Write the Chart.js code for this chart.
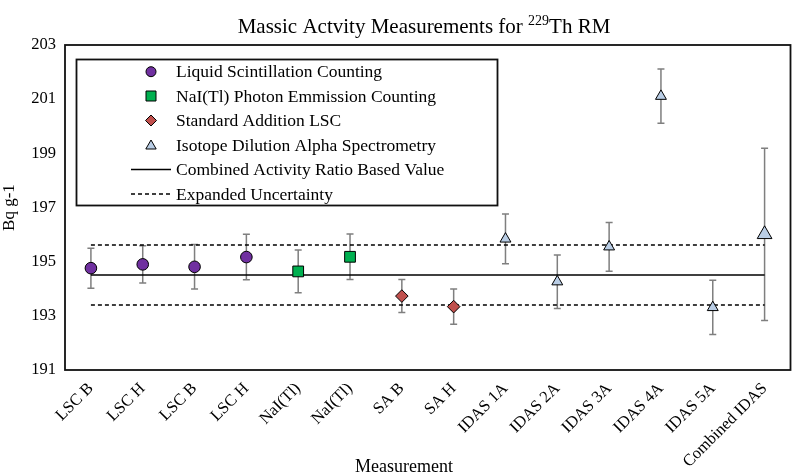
<!DOCTYPE html>
<html>
<head>
<meta charset="utf-8">
<script src="https://cdn.jsdelivr.net/npm/chart.js@4/dist/chart.umd.min.js"></script>
<style>
  html, body { margin: 0; padding: 0; background: #ffffff; }
  #wrap { width: 800px; height: 476px; position: relative; }
</style>
</head>
<body>
<div id="wrap"><canvas id="c" width="800" height="476"></canvas></div>
<script>
// ---------------- DATA ----------------
const categories = ['LSC B', 'LSC H', 'LSC B', 'LSC H', 'NaI(Tl)', 'NaI(Tl)', 'SA B', 'SA H',
  'IDAS 1A', 'IDAS 2A', 'IDAS 3A', 'IDAS 4A', 'IDAS 5A', 'Combined IDAS'];
const lscValues  = [194.76, 194.90, 194.81, 195.17, null, null, null, null, null, null, null, null, null, null];
const naiValues  = [null, null, null, null, 194.64, 195.18, null, null, null, null, null, null, null, null];
const saValues   = [null, null, null, null, null, null, 193.73, 193.34, null, null, null, null, null, null];
const idasValues = [null, null, null, null, null, null, null, null, 195.84, 194.26, 195.55, 201.11, 193.31, 196.01];
const errorValues = [0.74, 0.69, 0.82, 0.84, 0.79, 0.84, 0.61, 0.65, 0.92, 0.99, 0.90, 1.00, 1.00, 3.18];
const combinedValue = 194.51;
const expandedUpper = 195.62;
const expandedLower = 193.40;
const yTicks = [191, 193, 195, 197, 199, 201, 203];
const seriesNames = ['Liquid Scintillation Counting', 'NaI(Tl) Photon Emmission Counting',
  'Standard Addition LSC', 'Isotope Dilution Alpha Spectrometry',
  'Combined Activity Ratio Based Value', 'Expanded Uncertainty'];
const titleMain = 'Massic Actvity Measurements for ';
const titleSup = '229';
const titleEnd = 'Th RM';
const xAxisTitle = 'Measurement';
const yAxisTitle = 'Bq g-1';

// ---------------- STYLE ----------------
const FONT = "'Liberation Serif', 'Times New Roman', serif";
const C_PURPLE = '#7030A0';
const C_GREEN = '#00B050';
const C_RED = '#C0504D';
const C_BLUE = '#B9CDE5';

function drawMarker(ctx, style, x, y, r, fill) {
  ctx.save();
  ctx.fillStyle = fill;
  ctx.strokeStyle = '#000';
  ctx.lineWidth = 1;
  ctx.beginPath();
  if (style === 'circle') {
    ctx.arc(x, y, r, 0, Math.PI * 2);
  } else if (style === 'rect') {
    ctx.rect(x - r, y - r, 2 * r, 2 * r);
  } else if (style === 'rectRot') {
    ctx.moveTo(x, y - r); ctx.lineTo(x + r, y); ctx.lineTo(x, y + r); ctx.lineTo(x - r, y); ctx.closePath();
  } else if (style === 'triangle') {
    ctx.moveTo(x, y - r); ctx.lineTo(x + r * 0.866, y + r * 0.5); ctx.lineTo(x - r * 0.866, y + r * 0.5); ctx.closePath();
  }
  ctx.fill();
  ctx.stroke();
  ctx.restore();
}

const errorBarPlugin = {
  id: 'errorBars',
  beforeDatasetsDraw(chart) {
    const ctx = chart.ctx;
    const xs = chart.scales.x, ys = chart.scales.y;
    ctx.save();
    ctx.strokeStyle = '#7F7F7F';
    ctx.lineWidth = 1.5;
    [lscValues, naiValues, saValues, idasValues].forEach(arr => {
      arr.forEach((v, i) => {
        if (v === null) return;
        const x = xs.getPixelForValue(i);
        const yT = ys.getPixelForValue(v + errorValues[i]);
        const yB = ys.getPixelForValue(v - errorValues[i]);
        ctx.beginPath();
        ctx.moveTo(x, yT); ctx.lineTo(x, yB);
        ctx.moveTo(x - 3.5, yT); ctx.lineTo(x + 3.5, yT);
        ctx.moveTo(x - 3.5, yB); ctx.lineTo(x + 3.5, yB);
        ctx.stroke();
      });
    });
    ctx.restore();
  }
};

const decorPlugin = {
  id: 'decor',
  afterDraw(chart) {
    const ctx = chart.ctx;
    const a = chart.chartArea;
    ctx.save();
    // plot frame
    ctx.strokeStyle = '#111';
    ctx.lineWidth = 1.8;
    ctx.strokeRect(a.left, a.top, a.right - a.left, a.bottom - a.top);

    // title with superscript
    ctx.fillStyle = '#000';
    ctx.textBaseline = 'alphabetic';
    ctx.font = '21px ' + FONT;
    const w1 = ctx.measureText(titleMain).width;
    const w3 = ctx.measureText(titleEnd).width;
    ctx.font = '14px ' + FONT;
    const w2 = ctx.measureText(titleSup).width;
    const total = w1 + w2 + w3;
    const tx = 424 - total / 2;
    const ty = 33;
    ctx.textAlign = 'left';
    ctx.font = '21px ' + FONT;
    ctx.fillText(titleMain, tx, ty);
    ctx.font = '14px ' + FONT;
    ctx.fillText(titleSup, tx + w1, ty - 8);
    ctx.font = '21px ' + FONT;
    ctx.fillText(titleEnd, tx + w1 + w2, ty);

    // x axis title
    ctx.textAlign = 'center';
    ctx.textBaseline = 'alphabetic';
    ctx.font = '18px ' + FONT;
    ctx.fillText(xAxisTitle, 404, 472);

    // y axis title
    ctx.save();
    ctx.translate(14, (a.top + a.bottom) / 2);
    ctx.rotate(-Math.PI / 2);
    ctx.textAlign = 'center';
    ctx.textBaseline = 'alphabetic';
    ctx.font = '17px ' + FONT;
    ctx.fillText(yAxisTitle, 0, 0);
    ctx.restore();

    // legend box
    ctx.fillStyle = '#fff';
    ctx.fillRect(76.5, 59.5, 421, 146);
    ctx.strokeStyle = '#111';
    ctx.lineWidth = 1.8;
    ctx.strokeRect(76.5, 59.5, 421, 146);
    const rows = [71.7, 96, 120.5, 145, 169.5, 194];
    const mx = 151;
    drawMarker(ctx, 'circle', mx, rows[0], 5, C_PURPLE);
    drawMarker(ctx, 'rect', mx, rows[1], 5, C_GREEN);
    drawMarker(ctx, 'rectRot', mx, rows[2], 5.5, C_RED);
    drawMarker(ctx, 'triangle', mx, rows[3] + 1, 6, C_BLUE);
    ctx.strokeStyle = '#000';
    ctx.lineWidth = 1.5;
    ctx.beginPath(); ctx.moveTo(131, rows[4]); ctx.lineTo(171, rows[4]); ctx.stroke();
    ctx.setLineDash([4, 3]);
    ctx.beginPath(); ctx.moveTo(131, rows[5]); ctx.lineTo(171, rows[5]); ctx.stroke();
    ctx.setLineDash([]);
    ctx.fillStyle = '#000';
    ctx.font = '17.5px ' + FONT;
    ctx.textAlign = 'left';
    ctx.textBaseline = 'middle';
    seriesNames.forEach((s, i) => ctx.fillText(s, 176, rows[i] + 1));
    ctx.restore();
  }
};

const markerDefaults = { showLine: false, borderColor: '#000', pointBorderColor: '#000', pointBorderWidth: 1 };

new Chart(document.getElementById('c'), {
  type: 'line',
  data: {
    labels: categories,
    datasets: [
      Object.assign({ label: seriesNames[0], data: lscValues, pointStyle: 'circle', pointRadius: 5.8,
        backgroundColor: C_PURPLE, pointBackgroundColor: C_PURPLE }, markerDefaults),
      Object.assign({ label: seriesNames[1], data: naiValues, pointStyle: 'rect', pointRadius: 7.6,
        backgroundColor: C_GREEN, pointBackgroundColor: C_GREEN }, markerDefaults),
      Object.assign({ label: seriesNames[2], data: saValues, pointStyle: 'rectRot', pointRadius: 6.3,
        backgroundColor: C_RED, pointBackgroundColor: C_RED }, markerDefaults),
      Object.assign({ label: seriesNames[3], data: idasValues, pointStyle: 'triangle',
        pointRadius: [6.3, 6.3, 6.3, 6.3, 6.3, 6.3, 6.3, 6.3, 6.3, 6.3, 6.3, 6.3, 6.3, 8.5],
        backgroundColor: C_BLUE, pointBackgroundColor: C_BLUE }, markerDefaults),
      { label: seriesNames[4], data: [{ x: categories[0], y: combinedValue }, { x: categories[categories.length - 1], y: combinedValue }],
        borderColor: '#000', borderWidth: 1.5, pointRadius: 0, fill: false },
      { label: seriesNames[5], data: [{ x: categories[0], y: expandedUpper }, { x: categories[categories.length - 1], y: expandedUpper }],
        borderColor: '#000', borderWidth: 1.5, borderDash: [4, 3], pointRadius: 0, fill: false },
      { label: seriesNames[5] + ' ', data: [{ x: categories[0], y: expandedLower }, { x: categories[categories.length - 1], y: expandedLower }],
        borderColor: '#000', borderWidth: 1.5, borderDash: [4, 3], pointRadius: 0, fill: false }
    ]
  },
  options: {
    responsive: false,
    animation: false,
    events: [],
    layout: { padding: { top: 45, right: 6, left: 0, bottom: 0 } },
    plugins: { legend: { display: false }, tooltip: { enabled: false }, title: { display: false } },
    scales: {
      x: {
        type: 'category',
        offset: true,
        grid: { display: false, drawTicks: false },
        border: { display: false },
        ticks: { autoSkip: false, minRotation: 45, maxRotation: 45, padding: 9,
          color: '#000', font: { family: FONT, size: 16.5 } },
        afterFit(s) { s.height = 106; }
      },
      y: {
        min: 191, max: 203,
        afterBuildTicks(s) { s.ticks = yTicks.map(v => ({ value: v })); },
        grid: { display: false, drawTicks: false },
        border: { display: false },
        ticks: { padding: 9, color: '#000', font: { family: FONT, size: 16.5 } },
        afterFit(s) { s.width = 65; }
      }
    }
  },
  plugins: [errorBarPlugin, decorPlugin]
});
</script>
</body>
</html>
